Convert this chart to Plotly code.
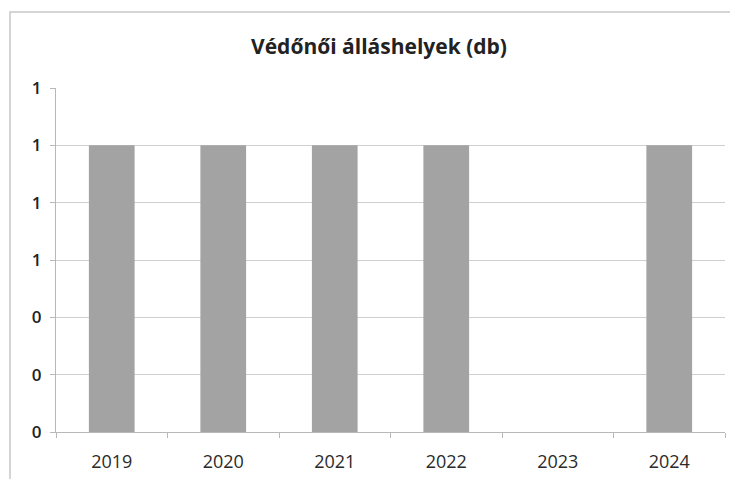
import plotly.graph_objects as go

years = ["2019", "2020", "2021", "2022", "2023", "2024"]
positions = [1, 1, 1, 1, 0, 1]
y_tick_vals = [0, 0.2, 0.4, 0.6, 0.8, 1.0, 1.2]
y_tick_text = ["0", "0", "0", "1", "1", "1", "1"]

OFF = 8  # page offset
L, R, T, B = 56 - OFF, 738 - 725 + OFF, 88 - OFF, 479 - 432 + OFF
PW = 738 - L - R
PH = 479 - T - B

fig = go.Figure(go.Bar(
    x=years, y=positions,
    marker=dict(color="#a3a3a3", line=dict(width=0)),
    width=0.41,
))

fig.update_layout(
    width=738, height=479,
    margin=dict(l=L, r=R, t=T, b=B),
    paper_bgcolor="white", plot_bgcolor="white",
    showlegend=False,
    title=dict(text="<b>Védőnői álláshelyek (db)</b>", x=(379 - OFF) / 738, xanchor="center",
               y=1 - (47 - OFF) / 479, yanchor="middle",
               font=dict(family="Open Sans", size=21, color="#222")),
    font=dict(family="Open Sans", color="#333"),
    xaxis=dict(
        type="category", showgrid=False, showline=True, linecolor="#b8b8b8", linewidth=1,
        ticks="outside", tickson="boundaries", ticklen=5, tickcolor="#b8b8b8",
        tickfont=dict(size=18, color="#2a2a2a", weight=500), ticklabelstandoff=13,
    ),
    yaxis=dict(
        range=[0, 1.2], tickvals=y_tick_vals, ticktext=y_tick_text,
        showgrid=True, gridcolor="#cfcfcf", gridwidth=1,
        showline=True, linecolor="#b8b8b8", linewidth=1,
        ticks="outside", ticklen=5, tickcolor="#b8b8b8",
        tickfont=dict(size=17, color="#222", weight=600), zeroline=False,
        ticklabelstandoff=5,
    ),
    shapes=[dict(type="rect", xref="paper", yref="paper",
                 x0=(10 - 56) / PW, x1=(745 - 56) / PW,
                 y0=-0.3, y1=(432 - 12) / PH,
                 line=dict(color="#c8c8c8", width=1.5), fillcolor="rgba(0,0,0,0)",
                 layer="below")],
)

fig.write_html("out.html")
